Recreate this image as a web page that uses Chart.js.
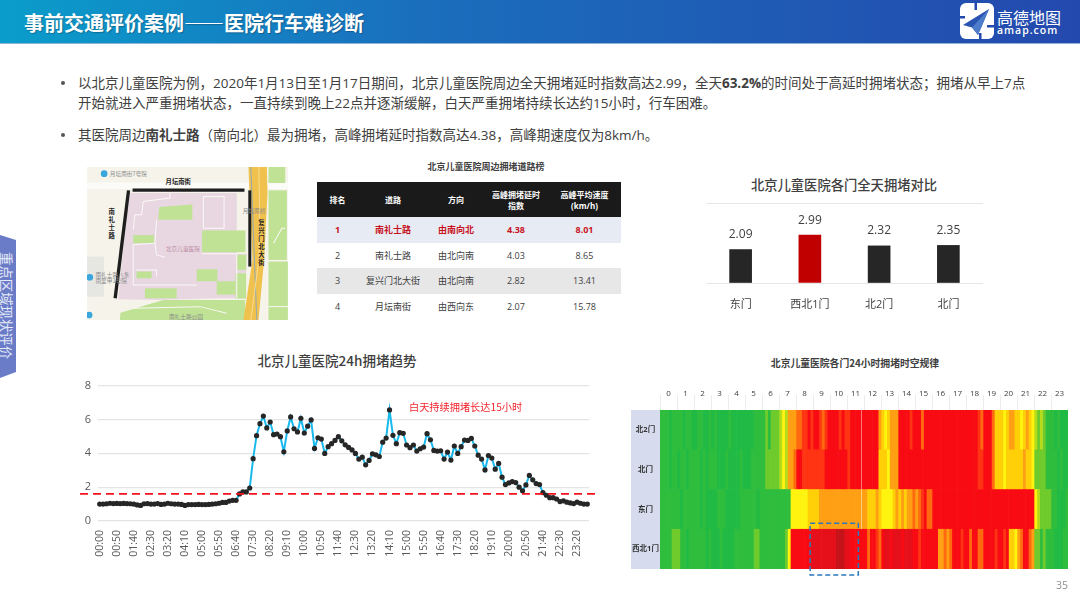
<!DOCTYPE html>
<html lang="zh">
<head>
<meta charset="utf-8">
<script src="https://cdn.jsdelivr.net/npm/chart.js@4/dist/chart.umd.js"></script>
<style>
  * { box-sizing: border-box; }
  html, body { margin: 0; padding: 0; background: #fff; }
  body { width: 1080px; height: 600px; position: relative; overflow: hidden; font-family: "Open Sans", "Noto Sans CJK SC", sans-serif; color: #404040; }
  .abs { position: absolute; white-space: nowrap; }
  canvas { position: absolute; }
  #header { left: 0; top: 0; width: 1080px; height: 44px; background: linear-gradient(90deg, #0a9dcb 0%, #1a6fbd 38%, #2449ae 100%); border-bottom: 1px solid #8fb4d8; }
  #pageTitle { left: 24px; top: 9px; font-size: 20px; line-height: 28px; font-weight: 700; color: #fff; font-family: "Noto Sans CJK SC", sans-serif; text-shadow: 1px 1px 1px rgba(0,0,0,.25); }
  .para { left: 78px; font-size: 13.5px; line-height: 20px; color: #404040; }
  .dot { left: 61px; width: 4px; height: 4px; border-radius: 50%; background: #555; }
  .ctitle { font-family: "Noto Sans CJK SC", sans-serif; transform: translateX(-50%); color: #404040; }
  #roads { left: 317px; top: 182px; width: 304px; border-collapse: collapse; table-layout: fixed; font-size: 9px; text-align: center; }
  #roads th { background: #1a1a1a; color: #fff; font-size: 8px; line-height: 11px; height: 35px; padding: 0; font-weight: 700; white-space: normal; }
  #roads td { height: 25.5px; padding: 0; color: #404040; }
  #roads tr.top td { background: #e7ebf4; color: #c8141e; font-weight: 700; }
  #roads tr.grey td { background: #e7e7e7; }
</style>
</head>
<body>
<div class="abs" id="header"></div>
<div class="abs" id="pageTitle">事前交通评价案例——医院行车难诊断</div>

<svg class="abs" style="left:960px;top:3px" width="34" height="36" viewBox="0 0 34 36">
  <rect x="0" y="0" width="34" height="36" rx="6" fill="#fff"/>
  <rect x="14.5" y="0" width="2.5" height="7" fill="#2449ae"/>
  <rect x="0" y="13" width="5" height="2.5" fill="#2449ae"/>
  <rect x="27" y="22" width="7" height="2.5" fill="#2449ae"/>
  <rect x="19" y="30" width="2.5" height="6" fill="#2449ae"/>
  <polygon points="29,6 3,22 12,24.5 18,32" fill="#2a54b2"/>
  <polygon points="29,6 12,24.5 18,32" fill="#4d7ccb"/>
</svg>
<div class="abs" style="left:997px;top:6px;font-size:16px;line-height:22px;color:#fff;font-family:'Noto Sans CJK SC'">高德地图</div>
<div class="abs" style="left:997px;top:23px;font-size:10.5px;line-height:14px;letter-spacing:1px;font-weight:600;color:#fff">amap.com</div>

<svg class="abs" style="left:0;top:235px" width="17" height="143" viewBox="0 0 17 143">
  <polygon points="0,0 16,5 16,137 0,143" fill="#6a7cc8"/>
</svg>
<div class="abs" style="left:0;top:252px;writing-mode:vertical-rl;text-orientation:sideways;font-size:13.4px;line-height:14px;color:#e6eaf8;font-family:'Noto Sans CJK SC'">重点区域现状评价</div>

<div class="abs dot" style="top:81px"></div>
<div class="abs para" style="top:73px">以北京儿童医院为例，2020年1月13日至1月17日期间，北京儿童医院周边全天拥堵延时指数高达2.99，全天<b>63.2%</b>的时间处于高延时拥堵状态；拥堵从早上7点</div>
<div class="abs para" style="top:93px">开始就进入严重拥堵状态，一直持续到晚上22点并逐渐缓解，白天严重拥堵持续长达约15小时，行车困难。</div>
<div class="abs dot" style="top:133px"></div>
<div class="abs para" style="top:125px">其医院周边<b>南礼士路</b>（南向北）最为拥堵，高峰拥堵延时指数高达4.38，高峰期速度仅为8km/h。</div>

<!-- map picture, redrawn by hand -->
<svg class="abs" style="left:87px;top:167px" width="201" height="153" viewBox="262 22 601 458" font-family="Noto Sans CJK SC">
  <rect x="262" y="22" width="601" height="458" fill="#f5f3ea"/>
  <rect x="262" y="290" width="50" height="120" fill="#e6e6e2"/>
  <rect x="262" y="68" width="601" height="20" fill="#fbfbf8"/>
  <polygon points="390,100 710,100 710,282 740,282 735,415 650,415 480,420 355,418 372,250" fill="#e8d7e1"/>
  <polygon points="360,480 362,458 490,420 735,420 735,480" fill="#bfe295"/>
  <g fill="#bfe295">
    <polygon points="478,142 577,134 577,180 475,180"/>
    <rect x="400" y="226" width="62" height="24"/>
    <rect x="606" y="212" width="130" height="65"/>
    <rect x="590" y="328" width="62" height="36"/>
    <rect x="710" y="285" width="28" height="45"/>
    <rect x="706" y="340" width="32" height="76"/>
    <rect x="650" y="364" width="55" height="40"/>
    <rect x="435" y="385" width="95" height="30"/>
    <rect x="410" y="335" width="45" height="20"/>
    <rect x="805" y="22" width="50" height="48"/>
    <rect x="805" y="92" width="55" height="208"/>
    <rect x="805" y="305" width="58" height="175"/>
  </g>
  <g fill="none" stroke="#fbf8f6" stroke-width="3">
    <polyline points="400,210 405,165 425,165 430,125 510,115 510,100"/>
    <polyline points="470,180 465,250 400,255 400,375 590,375"/>
    <polyline points="465,250 470,285 495,292"/>
    <polyline points="610,110 672,110 672,205 610,205 610,110 M610,130 672,130 M610,150 672,150 M610,170 672,170 M610,190 672,190"/>
    <polyline points="605,282 710,282 710,415 M652,282 652,415 M640,212 640,277 M590,328 525,345 500,345 500,375"/>
    <polyline points="470,350 470,330 410,330"/>
    <polyline points="400,445 600,440 680,460"/>
    <polyline points="820,250 845,205 855,205 M820,250 840,270 M820,250 815,270"/>
    <polyline points="805,440 863,440"/>
  </g>
  <polygon points="745,22 800,22 802,100 792,300 775,480 730,480 757,300 748,100" fill="#f1c14e"/>
  <polyline points="752,22 756,120 764,330 770,480" fill="none" stroke="#7ea6c9" stroke-width="2.5"/>
  <polyline points="776,22 778,120 776,300 752,480" fill="none" stroke="#f8dc92" stroke-width="3"/>
  <circle cx="313" cy="42" r="10" fill="#39a6dc"/><circle cx="270" cy="352" r="10" fill="#39a6dc"/><circle cx="268" cy="465" r="10" fill="#39a6dc"/>
  <g stroke="#1e1e1e" fill="none">
    <line x1="398" y1="91" x2="733" y2="91" stroke-width="10"/>
    <line x1="386" y1="92" x2="346" y2="415" stroke-width="10"/>
    <line x1="749" y1="92" x2="749" y2="320" stroke-width="9"/>
  </g>
  <g font-size="17" fill="#8b8b8b">
    <text x="330" y="48">月坛南街7号院</text>
    <text x="728" y="160">月坛南桥</text>
    <text x="498" y="272" fill="#bb8ba3">北京儿童医院</text>
    <text x="507" y="476">南礼士路公园</text>
    <text x="287" y="350">南礼士路八条</text>
    <text x="287" y="368">南里甲1号院</text>
  </g>
  <g font-size="19" font-weight="700" fill="#222">
    <text x="497" y="72">月坛南街</text>
    <text x="326" y="164">南</text><text x="326" y="188">礼</text><text x="326" y="212">士</text><text x="326" y="236">路</text>
    <text x="774" y="196">复</text><text x="774" y="220">兴</text><text x="774" y="244">门</text><text x="774" y="268">北</text><text x="774" y="292">大</text><text x="774" y="316">街</text>
  </g>
</svg>

<div class="abs ctitle" style="left:486px;top:161px;font-size:9px;line-height:12px;font-weight:700">北京儿童医院周边拥堵道路榜</div>
<table class="abs" id="roads">
  <colgroup><col style="width:41px"><col style="width:70px"><col style="width:56px"><col style="width:64px"><col style="width:73px"></colgroup>
  <thead id="roadsHead"></thead>
  <tbody id="roadsBody"></tbody>
</table>

<div class="abs ctitle" style="left:844px;top:175px;font-size:13.3px;line-height:20px;font-weight:500">北京儿童医院各门全天拥堵对比</div>
<canvas id="gateBars"></canvas>

<div class="abs ctitle" style="left:337px;top:350px;font-size:13.5px;line-height:20px;font-weight:500">北京儿童医院24h拥堵趋势</div>
<canvas id="trend"></canvas>
<div class="abs" style="left:409px;top:400px;font-size:10.2px;line-height:14px;color:#f0262e;font-family:'Noto Sans CJK SC'">白天持续拥堵长达15小时</div>

<div class="abs ctitle" style="left:855px;top:356px;font-size:9.8px;line-height:14px;font-weight:700">北京儿童医院各门24小时拥堵时空规律</div>
<canvas id="heat"></canvas>

<div class="abs" style="left:1056px;top:578px;font-size:10.5px;line-height:14px;color:#8f8f8f">35</div>

<script>
// road ranking table
const roadHeaders = ['排名', '道路', '方向', '高峰拥堵延时<br>指数', '高峰平均速度<br>(km/h)'];
const roadRanks = [1, 2, 3, 4];
const roadNames = ['南礼士路', '南礼士路', '复兴门北大街', '月坛南街'];
const roadDirs = ['由南向北', '由北向南', '由北向南', '由西向东'];
const roadIndex = ['4.38', '4.03', '2.82', '2.07'];
const roadSpeed = ['8.01', '8.65', '13.41', '15.78'];

// all-day congestion per gate
const gateNames = ['东门', '西北1门', '北2门', '北门'];
const gateValues = [2.09, 2.99, 2.32, 2.35];

// 24h trend, one value per 10 minutes
const trendValues = [
  1.0, 1.0, 1.02, 1.05, 1.03, 1.04, 1.03, 1.04, 1.03, 1.02,
  1.0, 0.95, 0.92, 1.02, 1.03, 1.0, 1.0, 1.03, 0.98, 1.0,
  1.05, 1.02, 1.0, 1.0, 0.98, 0.92, 0.97, 0.97, 0.97, 0.98,
  0.97, 0.97, 0.98, 1.0, 1.02, 1.05, 1.1, 1.1, 1.18, 1.22,
  1.22, 1.6, 1.72, 1.72, 1.95, 3.68, 5.04, 5.75, 6.2, 5.5,
  5.85, 5.1, 5.14, 4.98, 4.09, 5.32, 6.15, 5.45, 5.26, 6.07,
  5.2, 5.6, 5.97, 4.29, 4.92, 4.84, 3.99, 4.39, 4.57, 4.76,
  4.98, 4.74, 4.5, 4.35, 4.2, 3.99, 3.66, 3.77, 3.32, 3.58,
  3.97, 3.91, 3.81, 4.66, 4.9, 6.56, 5.06, 4.57, 5.22, 5.18,
  4.49, 4.33, 4.49, 4.13, 4.27, 4.37, 5.16, 4.8, 4.17, 4.13,
  4.15, 3.66, 4.07, 3.6, 4.43, 3.99, 4.39, 4.78, 4.76, 4.88,
  4.43, 3.89, 3.66, 3.02, 3.87, 3.72, 3.06, 3.4, 2.59, 2.15,
  2.25, 2.33, 2.27, 2.0, 1.78, 2.13, 2.69, 2.43, 2.21, 2.15,
  1.68, 1.52, 1.38, 1.38, 1.3, 1.15, 1.19, 1.11, 1.07, 1.03,
  1.11, 1.05, 1.0, 1.0
];
const trendThreshold = 1.6;
const trendTicks = [0, 2, 4, 6, 8];

// heatmap: congestion level per 10 minutes, one line per hour
const heatRows = ['北2门', '北门', '东门', '西北1门'];
const heatHours = [0,1,2,3,4,5,6,7,8,9,10,11,12,13,14,15,16,17,18,19,20,21,22,23];
const heatNorth2 = [
  1,1,1,0,1,1, 1,1,0,1,1,0, 0,1,1,0,0,1, 0,1,0,0,0,0,
  1,0,0,0,0,0, 0,0,0,1,1,1, 1,2,1,2,2,2, 3,4,3,6,6,6,
  7,7,8,8,9,8, 9,9,8,7,8,9, 9,9,9,8,9,8, 8,9,9,9,9,9,
  9,9,9,9,9,6, 5,4,5,6,6,6, 9,9,9,9,8,9, 9,9,7,9,9,9,
  9,9,9,9,9,9, 9,9,9,9,9,9, 9,9,9,9,8,7, 9,9,9,7,5,5,
  5,4,5,6,6,5, 5,4,5,6,5,4, 3,2,3,2,1,1, 1,0,1,0,0,0
];
const heatNorth = [
  1,1,1,0,1,1, 0,1,1,0,1,1, 1,1,0,1,0,1, 1,1,0,0,0,1,
  0,0,0,0,1,0, 0,0,1,1,1,1, 1,2,2,2,2,2, 3,4,3,6,6,7,
  9,9,8,8,8,8, 8,8,8,8,9,9, 9,9,9,9,9,9, 8,9,9,9,9,9,
  9,9,9,9,9,5, 5,5,4,6,6,6, 9,9,9,9,9,9, 9,9,9,9,9,9,
  9,9,9,9,9,9, 9,9,9,9,9,9, 9,9,9,9,8,8, 9,9,9,7,5,5,
  5,4,5,5,5,5, 5,5,6,5,5,4, 2,2,2,2,1,1, 1,1,0,1,0,0
];
const heatEast = [
  1,1,1,1,1,1, 1,0,1,1,1,1, 1,1,0,1,0,0, 0,0,1,1,1,0,
  0,0,0,0,1,1, 1,1,1,1,0,1, 1,1,1,1,1,1, 1,1,1,1,4,4,
  4,4,4,4,5,5, 5,5,6,6,6,6, 6,6,6,6,6,6, 6,6,6,6,6,6,
  6,5,5,5,6,5, 4,4,4,4,5,6, 5,6,5,6,6,7, 6,7,8,9,7,7,
  9,9,9,9,9,9, 9,9,9,9,9,9, 9,9,9,9,9,9, 9,9,9,9,9,9,
  9,9,9,9,9,9, 9,9,9,9,9,9, 4,3,2,2,2,2, 1,1,0,0,0,1
];
const heatNorthwest = [
  1,1,1,1,2,2, 2,1,1,0,1,1, 1,1,1,1,0,1, 0,0,0,1,0,0,
  0,0,1,1,1,1, 1,1,1,2,2,1, 1,1,1,1,1,1, 1,1,2,4,9,9,
  9,9,9,9,9,10, 10,10,10,10,10,10, 10,10,11,11,11,10, 10,9,9,9,9,9,
  9,7,9,9,8,7, 9,10,10,9,10,10, 10,9,10,10,10,9, 9,8,9,9,9,9,
  9,9,6,6,7,6, 7,9,9,9,8,9, 9,7,9,9,7,7, 9,9,9,9,8,9,
  9,8,9,5,5,4, 6,7,9,9,7,6, 2,2,1,2,1,1, 1,0,0,0,1,1
];
const heatLevelColors = ['#20ba45', '#2fbd3d', '#6fcb2c', '#b5dc1c', '#fff310', '#ffcf08', '#ff9f14', '#ff6a10', '#ff3412', '#f90b14', '#e5101a', '#c41319'];

Chart.defaults.font.family = '"Open Sans", "Noto Sans CJK SC", sans-serif';
Chart.defaults.color = '#595959';
Chart.defaults.animation = false;
Chart.defaults.responsive = false;
Chart.defaults.plugins.legend.display = false;
Chart.defaults.plugins.tooltip.enabled = false;

function placeCanvas(id, left, top, width, height) {
  const el = document.getElementById(id);
  el.width = width;
  el.height = height;
  el.style.left = left + 'px';
  el.style.top = top + 'px';
  return el.getContext('2d');
}

// table
document.getElementById('roadsHead').innerHTML = '<tr>' + roadHeaders.map(h => `<th>${h}</th>`).join('') + '</tr>';
document.getElementById('roadsBody').innerHTML = roadRanks.map((r, i) => {
  const cls = i === 0 ? 'top' : i === 2 ? 'grey' : '';
  return `<tr class="${cls}"><td>${r}</td><td>${roadNames[i]}</td><td>${roadDirs[i]}</td><td>${roadIndex[i]}</td><td>${roadSpeed[i]}</td></tr>`;
}).join('');

// value labels above the gate bars
const barValueLabels = {
  id: 'barValueLabels',
  afterDatasetsDraw(chart) {
    const { ctx } = chart;
    ctx.save();
    ctx.font = '12px ' + Chart.defaults.font.family;
    ctx.fillStyle = '#404040';
    ctx.textAlign = 'center';
    ctx.textBaseline = 'middle';
    chart.getDatasetMeta(0).data.forEach((bar, i) => {
      ctx.fillText(gateValues[i].toFixed(2), bar.x, bar.y - 15);
    });
    ctx.restore();
  }
};

new Chart(placeCanvas('gateBars', 695, 195, 300, 125), {
  type: 'bar',
  data: {
    labels: gateNames,
    datasets: [{
      data: gateValues,
      backgroundColor: gateValues.map(v => v === Math.max(...gateValues) ? '#c00000' : '#262626'),
      barThickness: 22
    }]
  },
  options: {
    layout: { padding: { left: 11, right: 12, top: 8 } },
    scales: {
      x: {
        grid: { display: false },
        border: { display: false },
        ticks: { font: { size: 11 }, color: '#404040', padding: 7 },
        afterFit(s) { s.height = 37; }
      },
      y: {
        min: 0,
        max: 5,
        ticks: { display: false, stepSize: 5 },
        border: { display: false },
        grid: { color: '#e6e6e6', lineWidth: 1, drawTicks: false },
        afterFit(s) { s.width = 0; }
      }
    }
  },
  plugins: [barValueLabels]
});

// dashed threshold runs past both ends of the plot
const thresholdLine = {
  id: 'thresholdLine',
  afterDatasetsDraw(chart) {
    const { ctx, chartArea, scales } = chart;
    const y = scales.y.getPixelForValue(trendThreshold);
    ctx.save();
    ctx.strokeStyle = '#f5121e';
    ctx.lineWidth = 1.8;
    ctx.setLineDash([8, 5]);
    ctx.beginPath();
    ctx.moveTo(chartArea.left - 18, y);
    ctx.lineTo(chartArea.right + 9, y);
    ctx.stroke();
    ctx.restore();
  }
};

const timeLabels = trendValues.map((_, i) => {
  const h = String(Math.floor(i / 6)).padStart(2, '0');
  return `${h}:${i % 6}0`;
});

new Chart(placeCanvas('trend', 70, 372, 540, 208), {
  type: 'line',
  data: {
    labels: timeLabels,
    datasets: [{
      data: trendValues,
      borderColor: '#19b9ee',
      borderWidth: 2,
      pointBackgroundColor: '#262626',
      pointBorderColor: '#262626',
      pointBorderWidth: 0,
      pointRadius: 2.6,
      tension: 0
    }]
  },
  options: {
    layout: { padding: { right: 21 } },
    scales: {
      x: {
        offset: true,
        grid: { display: false },
        border: { display: false },
        ticks: {
          autoSkip: false,
          minRotation: 90,
          maxRotation: 90,
          padding: 1,
          font: { size: 10.5 },
          callback(v, i) { return i % 5 === 0 ? this.getLabelForValue(v) : ''; }
        },
        afterFit(s) { s.height = 59; }
      },
      y: {
        min: 0,
        max: 8,
        afterBuildTicks(s) { s.ticks = trendTicks.map(value => ({ value })); },
        ticks: { font: { size: 11 }, padding: 7 },
        border: { display: false },
        grid: { color: '#e4e4e4', lineWidth: 1.2, drawTicks: false },
        afterFit(s) { s.width = 28; }
      }
    }
  },
  plugins: [thresholdLine]
});

// row label column, hour separators and the dashed peak box
const heatDecor = {
  id: 'heatDecor',
  beforeDraw(chart) {
    const { ctx, chartArea, scales } = chart;
    ctx.save();
    ctx.fillStyle = '#d6dbed';
    ctx.fillRect(scales.y.left, chartArea.top, chartArea.left - scales.y.left, chartArea.bottom - chartArea.top);
    ctx.strokeStyle = '#ececec';
    heatHours.forEach(h => {
      const x = Math.round(scales.x.getPixelForValue(h * 6)) + 0.5;
      ctx.beginPath();
      ctx.moveTo(x, chartArea.top - 15);
      ctx.lineTo(x, chartArea.top);
      ctx.stroke();
    });
    ctx.restore();
  },
  afterDraw(chart) {
    const { ctx, chartArea, scales } = chart;
    const left = scales.x.getPixelForValue(53);
    const right = scales.x.getPixelForValue(70);
    const rowH = (chartArea.bottom - chartArea.top) / heatRows.length;
    const top = scales.y.getPixelForValue(3) - rowH / 2 - 6;
    ctx.save();
    // row names centred in their column, chart.js would right-align them
    ctx.font = '700 7.5px ' + Chart.defaults.font.family;
    ctx.fillStyle = '#333';
    ctx.textAlign = 'center';
    ctx.textBaseline = 'middle';
    heatRows.forEach((name, i) => {
      ctx.fillText(name, (scales.y.left + chartArea.left) / 2, scales.y.getPixelForValue(i));
    });
    // faint line left over in the picture near hour 12
    ctx.strokeStyle = 'rgba(255,255,255,.45)';
    ctx.beginPath();
    ctx.moveTo(Math.round(scales.x.getPixelForValue(71)) + 0.5, chartArea.top);
    ctx.lineTo(Math.round(scales.x.getPixelForValue(71)) + 0.5, scales.y.getPixelForValue(2) + rowH / 2);
    ctx.stroke();
    ctx.strokeStyle = '#2a78bd';
    ctx.lineWidth = 1.5;
    ctx.setLineDash([5, 3]);
    ctx.strokeRect(left, top, right - left, rowH + 12);
    ctx.restore();
  }
};

const heatSlots = [heatNorth2, heatNorth, heatEast, heatNorthwest];
new Chart(placeCanvas('heat', 631, 390, 440, 195), {
  type: 'bar',
  data: {
    labels: heatRows,
    datasets: heatNorth2.map((_, slot) => ({
      data: heatRows.map(() => 1),
      backgroundColor: heatSlots.map(row => heatLevelColors[row[slot]]),
      borderWidth: 0
    }))
  },
  options: {
    indexAxis: 'y',
    barPercentage: 1,
    categoryPercentage: 1,
    layout: { padding: { right: 3, bottom: 16 } },
    scales: {
      x: {
        position: 'top',
        stacked: true,
        min: 0,
        max: 144,
        grid: { display: false },
        border: { display: false },
        afterBuildTicks(s) { s.ticks = heatHours.map(h => ({ value: h * 6 + 3 })); },
        ticks: {
          autoSkip: false,
          maxRotation: 0,
          padding: 3,
          font: { size: 8 },
          color: '#404040',
          callback(v) { return (v - 3) / 6; }
        },
        afterFit(s) { s.height = 20; }
      },
      y: {
        stacked: true,
        grid: { display: false },
        border: { display: false },
        ticks: { display: false },
        afterFit(s) { s.width = 29; }
      }
    }
  },
  plugins: [heatDecor]
});
</script>
</body>
</html>
